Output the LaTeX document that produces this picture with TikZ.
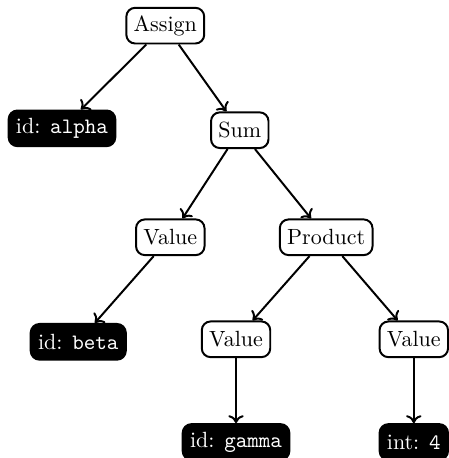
\documentclass[tikz,border=0pt]{standalone}
\usepackage{amsmath}
\usepackage{tikz}
\usetikzlibrary{arrows.meta}

\begin{document}
\begin{tikzpicture}[x=1cm, y=1cm,
    inner/.style={draw, line width=0.9pt, rounded corners=4pt, fill=white, minimum height=0.57cm},
    leaf/.style={draw, line width=0.9pt, rounded corners=4pt, fill=black, text=white, minimum height=0.57cm},
    edge/.style={-{To[length=3.6pt, width=7pt]}, line width=0.9pt}]
    % Fix the page size
    \useasboundingbox (0,0) rectangle (7.157,-7.316);
    % Draw inner nodes of the tree
    \node [inner] (assign) at (2.64,-0.41) {Assign};
    \node [inner] (sum) at (3.83,-2.08) {Sum};
    \node [inner] (value1) at (2.72,-3.79) {Value};
    \node [inner] (product) at (5.21,-3.79) {Product};
    \node [inner] (value2) at (3.77,-5.42) {Value};
    \node [inner] (value3) at (6.61,-5.42) {Value};
    % Draw leaves
    \node [leaf] (alpha) at (0.99,-2.05) {id: \texttt{alpha}};
    \node [leaf] (beta) at (1.25,-5.46) {id: \texttt{beta}};
    \node [leaf] (gamma) at (3.77,-7.06) {id: \texttt{gamma}};
    \node [leaf] (four) at (6.61,-7.06) {int: \texttt{4}};
    % Draw edges
    \draw [edge] (assign) -- (alpha);
    \draw [edge] (assign) -- (sum);
    \draw [edge] (sum) -- (value1);
    \draw [edge] (sum) -- (product);
    \draw [edge] (value1) -- (beta);
    \draw [edge] (product) -- (value2);
    \draw [edge] (product) -- (value3);
    \draw [edge] (value2) -- (gamma);
    \draw [edge] (value3) -- (four);
\end{tikzpicture}
\end{document}
